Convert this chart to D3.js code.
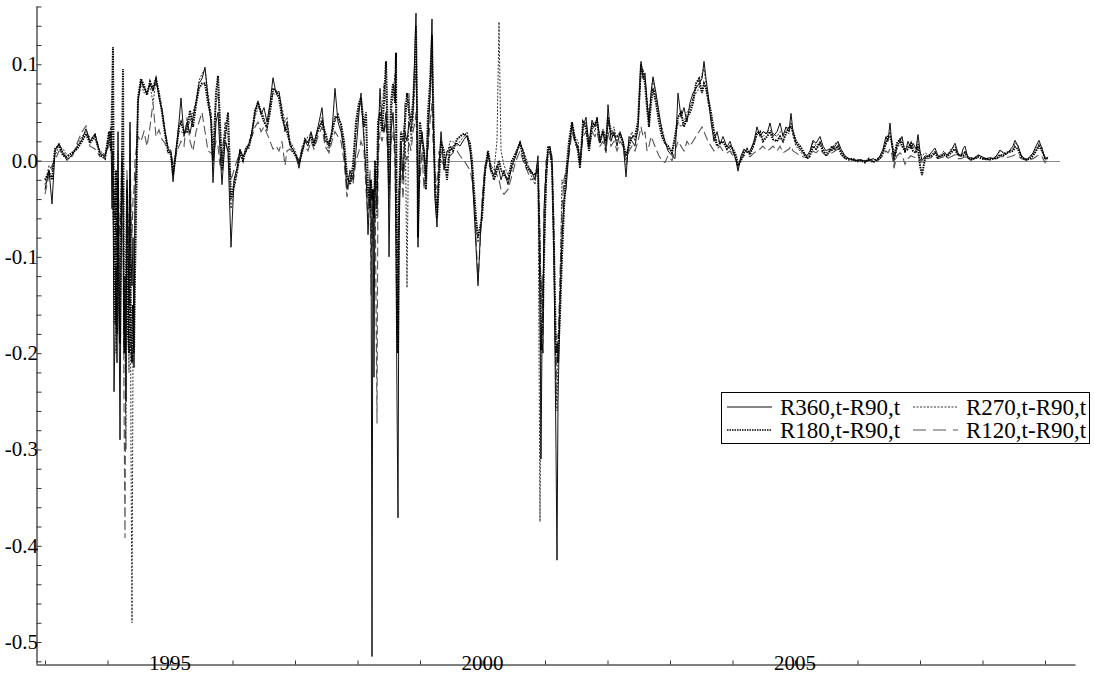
<!DOCTYPE html>
<html>
<head>
<meta charset="utf-8">
<script src="https://cdn.jsdelivr.net/npm/d3@7"></script>
<style>
html,body{margin:0;padding:0;background:#fff;}
svg{display:block;}
text{font-family:"Liberation Serif","Times New Roman",serif;fill:#000;}
</style>
</head>
<body>
<svg id="chart" width="1094" height="677"></svg>
<script>
// ---- data (decimal years) ----
const dates = [
1993.000,1993.064,1993.112,1993.160,1993.224,1993.288,1993.352,1993.432,1993.512,1993.592,1993.656,1993.720,1993.800,1993.880,1993.960,1994.024,
1994.056,1994.072,1994.088,1994.104,1994.120,1994.136,1994.152,1994.168,1994.184,1994.200,1994.216,1994.232,1994.248,1994.264,1994.280,1994.296,1994.312,1994.328,1994.344,1994.360,1994.376,1994.392,1994.408,1994.424,1994.440,1994.456,
1994.488,1994.536,1994.584,1994.632,1994.680,1994.728,1994.776,1994.824,1994.872,1994.920,1994.968,1995.016,1995.048,1995.096,1995.144,1995.176,1995.224,1995.272,1995.320,1995.368,1995.416,1995.464,1995.512,1995.560,1995.608,1995.656,1995.688,1995.736,1995.768,1995.800,1995.832,1995.880,1995.928,1995.976,1996.024,1996.072,1996.120,1996.168,1996.216,1996.264,1996.312,1996.360,1996.408,1996.456,1996.504,1996.552,1996.600,1996.648,1996.696,1996.744,1996.792,1996.840,1996.872,1996.920,1996.968,1997.016,1997.064,
1997.112,1997.160,1997.208,1997.256,1997.304,1997.368,1997.432,1997.480,1997.544,1997.592,
1997.640,1997.688,1997.736,1997.784,1997.832,1997.880,1997.928,1997.976,1998.024,1998.056,
1998.104,1998.136,1998.168,1998.200,1998.216,1998.232,1998.248,1998.264,1998.280,1998.312,
1998.328,1998.360,1998.392,1998.424,1998.456,1998.488,1998.504,1998.536,1998.568,1998.600,
1998.616,1998.632,1998.648,1998.664,1998.696,1998.728,1998.760,1998.792,1998.824,1998.856,
1998.888,1998.920,1998.936,1998.952,1998.968,1999.000,1999.032,1999.064,1999.096,1999.128,
1999.160,1999.192,1999.208,1999.240,1999.272,1999.304,1999.336,1999.384,1999.432,1999.480,
1999.528,1999.592,1999.640,1999.704,1999.752,1999.800,1999.832,1999.864,1999.896,1999.928,
1999.960,1999.992,2000.040,2000.088,2000.136,2000.184,2000.232,2000.264,2000.296,2000.344,
2000.408,2000.472,2000.536,2000.600,2000.648,2000.712,2000.776,2000.840,2000.888,2000.920,
2000.936,2000.952,2000.968,2000.984,2001.016,2001.048,2001.080,2001.112,2001.144,2001.176,
2001.192,2001.208,2001.240,2001.272,2001.304,2001.336,2001.384,2001.432,2001.480,2001.528,
2001.560,2001.608,2001.656,2001.704,2001.752,2001.800,2001.832,2001.880,2001.928,2001.976,
2002.008,2002.056,2002.104,2002.152,2002.200,2002.248,2002.296,2002.344,2002.392,2002.440,
2002.488,2002.520,2002.536,2002.568,2002.600,2002.632,2002.664,2002.696,2002.728,2002.776,
2002.824,2002.872,2002.920,2002.968,2003.032,2003.080,2003.128,2003.176,2003.224,2003.272,
2003.320,2003.368,2003.416,2003.464,2003.512,2003.544,2003.576,2003.608,2003.656,2003.704,
2003.752,2003.800,2003.848,2003.912,2003.960,2004.008,2004.056,2004.088,2004.136,2004.184,
2004.232,2004.280,2004.344,2004.392,2004.440,2004.488,2004.552,2004.600,2004.648,2004.712,
2004.760,2004.808,2004.856,2004.904,2004.936,2004.968,2005.016,2005.080,2005.128,2005.192,
2005.240,2005.288,2005.336,2005.400,2005.448,2005.496,2005.544,2005.592,2005.640,2005.688,
2005.736,2005.800,2005.864,2005.928,2005.992,2006.056,2006.120,2006.184,2006.248,2006.312,
2006.360,2006.408,2006.456,2006.488,2006.520,2006.552,2006.584,2006.632,2006.680,2006.712,
2006.760,2006.808,2006.856,2006.888,2006.936,2006.968,2007.000,2007.032,2007.080,2007.128,
2007.176,2007.240,2007.288,2007.336,2007.384,2007.432,2007.496,2007.560,2007.608,2007.656,
2007.688,2007.720,2007.768,2007.816,2007.864,2007.928,2007.992,2008.056,2008.120,2008.184,
2008.232,2008.280,2008.328,2008.376,2008.440,2008.488,2008.520,2008.568,2008.616,2008.664,
2008.712,2008.760,2008.808,2008.856,2008.904,2008.952,2009.000,2009.048
];

const r360 = [
-0.030,-0.010,-0.045,0.010,0.018,0.008,0.000,0.006,0.014,0.022,0.033,0.020,0.028,0.008,0.004,0.020,
0.030,-0.050,0.010,-0.240,-0.180,-0.110,-0.210,0.030,-0.150,-0.290,-0.120,0.000,-0.050,-0.200,-0.120,-0.250,-0.020,-0.080,-0.150,0.040,-0.100,-0.130,-0.080,-0.215,-0.030,-0.010,
0.062,0.083,0.075,0.070,0.080,0.072,0.086,0.065,0.052,0.030,0.012,0.008,-0.022,0.010,0.040,0.065,0.025,0.040,0.028,0.045,0.060,0.080,0.085,0.097,0.065,0.040,-0.023,0.040,0.050,0.010,-0.025,0.020,0.010,-0.090,-0.020,-0.008,0.012,0.004,0.010,0.018,0.030,0.050,0.062,0.048,0.055,0.040,0.060,0.086,0.070,0.072,0.050,0.030,0.040,0.015,0.012,0.005,-0.008,
0.010,0.020,0.015,0.030,0.018,0.035,0.055,0.020,0.018,0.030,
0.075,0.040,0.030,0.010,-0.030,-0.010,-0.020,0.010,0.050,0.070,
0.020,-0.010,-0.077,-0.030,-0.020,-0.515,-0.030,-0.225,-0.010,-0.050,
0.020,0.075,0.040,0.030,0.050,0.010,-0.100,0.030,0.050,0.010,
-0.100,-0.250,-0.371,-0.080,0.020,-0.020,0.030,0.020,0.040,0.030,
0.050,0.120,0.153,0.040,-0.090,0.010,0.030,0.010,-0.020,0.020,
0.070,0.147,0.060,-0.040,-0.069,-0.010,0.030,-0.010,0.010,0.010,
0.015,0.018,0.015,0.022,0.026,0.010,-0.010,-0.050,-0.090,-0.130,
-0.085,-0.050,-0.010,0.008,-0.010,-0.015,-0.005,-0.010,-0.020,-0.010,
-0.025,-0.005,0.005,0.020,0.010,-0.005,-0.010,-0.020,0.005,-0.150,
-0.310,-0.190,-0.200,-0.050,-0.010,0.010,0.015,0.000,-0.100,-0.300,
-0.415,-0.250,-0.150,-0.080,-0.040,-0.030,0.010,0.039,0.020,0.015,
-0.005,0.035,0.045,0.015,0.042,0.035,0.045,0.020,0.030,0.010,
0.058,0.020,0.030,0.015,0.030,0.020,-0.017,0.025,0.020,0.015,
0.035,0.085,0.103,0.085,0.091,0.060,0.040,0.070,0.087,0.070,
0.050,0.030,0.020,0.010,0.005,0.002,0.070,0.045,0.055,0.040,
0.060,0.070,0.075,0.080,0.085,0.103,0.085,0.070,0.040,0.020,
0.030,0.017,0.025,0.014,0.020,0.010,0.000,-0.011,0.005,0.012,
0.008,0.010,0.020,0.035,0.025,0.030,0.028,0.039,0.025,0.030,
0.039,0.025,0.035,0.030,0.049,0.030,0.018,0.012,0.008,0.005,
0.010,0.021,0.018,0.025,0.015,0.010,0.012,0.010,0.015,0.020,
0.012,0.005,0.002,0.001,0.000,0.001,-0.001,0.000,0.002,0.000,
0.005,0.012,0.025,0.020,0.039,0.015,0.000,0.015,0.020,0.025,
0.008,0.020,0.012,0.018,0.012,0.027,0.010,0.000,0.005,0.004,
0.008,0.013,0.005,0.004,0.008,0.006,0.010,0.018,0.008,0.004,
0.012,0.015,0.002,0.003,0.002,0.006,0.004,0.002,0.003,0.002,
0.006,0.011,0.008,0.006,0.011,0.015,0.021,0.015,0.006,0.002,
0.001,0.004,0.008,0.015,0.021,0.012,0.002,0.003
];

const r270 = [
-0.025,-0.005,-0.010,0.005,0.015,0.012,0.006,0.004,0.016,0.025,0.030,0.024,0.022,0.010,0.006,0.025,
0.035,-0.030,-0.060,-0.080,-0.110,-0.200,-0.150,0.010,-0.120,-0.180,-0.100,-0.020,-0.030,-0.150,-0.200,-0.300,-0.050,-0.100,-0.220,0.010,-0.300,-0.480,-0.200,-0.100,-0.050,-0.020,
0.060,0.080,0.070,0.072,0.078,0.060,0.082,0.068,0.055,0.032,0.015,0.010,-0.010,0.012,0.030,0.030,0.028,0.035,0.040,0.050,0.062,0.083,0.090,0.095,0.070,0.050,-0.010,0.060,0.070,0.030,0.000,0.040,0.025,-0.050,-0.030,-0.015,0.005,0.002,0.015,0.012,0.032,0.045,0.055,0.052,0.045,0.030,0.055,0.070,0.068,0.070,0.055,0.040,0.045,0.020,0.015,0.008,-0.004,
0.015,0.018,0.025,0.028,0.020,0.030,0.045,0.025,0.010,0.035,
0.040,0.050,0.035,0.015,-0.020,-0.020,-0.015,0.030,0.055,0.060,
0.030,-0.020,-0.040,-0.020,-0.080,-0.060,-0.090,-0.070,-0.020,-0.060,
0.010,0.060,0.050,0.080,0.060,0.030,-0.050,0.040,0.070,0.090,
0.040,-0.100,-0.200,-0.050,0.010,-0.010,0.060,-0.132,0.070,0.020,
0.040,0.080,0.090,0.050,-0.070,0.020,0.020,0.000,-0.010,0.040,
0.060,0.100,0.050,-0.020,-0.050,0.000,0.010,0.000,0.005,0.020,
0.020,0.015,0.020,0.025,0.030,0.015,-0.005,-0.040,-0.070,-0.085,
-0.080,-0.055,-0.015,0.005,-0.005,-0.010,0.020,0.144,0.010,-0.005,
-0.015,-0.010,0.010,0.015,0.012,0.000,-0.015,-0.025,0.000,-0.375,
-0.200,-0.150,-0.120,-0.100,-0.030,0.005,0.010,-0.010,-0.120,-0.230,
-0.260,-0.200,-0.130,-0.020,-0.030,-0.020,0.015,0.035,0.025,0.020,
0.000,0.030,0.040,0.020,0.040,0.030,0.040,0.025,0.028,0.015,
0.040,0.025,0.035,0.020,0.025,0.022,0.000,0.020,0.030,0.020,
0.030,0.070,0.090,0.095,0.085,0.065,0.045,0.070,0.085,0.065,
0.045,0.035,0.020,0.012,0.010,0.020,0.040,0.035,0.040,0.050,
0.055,0.065,0.070,0.075,0.090,0.095,0.080,0.060,0.045,0.025,
0.020,0.020,0.018,0.015,0.012,0.008,0.002,-0.008,0.003,0.010,
0.010,0.008,0.015,0.030,0.028,0.025,0.030,0.032,0.028,0.025,
0.030,0.028,0.030,0.028,0.040,0.025,0.015,0.010,0.006,0.004,
0.008,0.020,0.015,0.020,0.012,0.008,0.010,0.012,0.018,0.018,
0.010,0.004,0.002,0.000,0.001,0.000,0.000,0.001,0.000,0.002,
0.004,0.010,0.020,0.022,0.030,0.020,-0.005,0.012,0.018,0.020,
0.012,0.015,0.015,0.015,0.010,0.020,0.008,0.005,0.008,0.006,
0.006,0.010,0.004,0.006,0.010,0.005,0.012,0.015,0.006,0.005,
0.008,0.010,0.004,0.002,0.003,0.005,0.004,0.001,0.002,0.003,
0.005,0.010,0.009,0.007,0.010,0.012,0.018,0.016,0.005,0.001,
0.000,0.005,0.006,0.012,0.018,0.014,0.000,0.004
];

const r180 = [
-0.020,-0.012,-0.020,0.012,0.016,0.005,0.004,0.008,0.012,0.020,0.028,0.018,0.026,0.006,0.002,0.030,
0.010,0.060,0.118,-0.100,-0.170,-0.010,-0.180,-0.020,-0.150,-0.190,-0.050,0.000,0.095,-0.160,-0.200,-0.120,-0.030,-0.180,-0.200,-0.020,-0.190,-0.210,-0.150,-0.200,-0.120,-0.060,
0.065,0.085,0.078,0.068,0.082,0.075,0.085,0.070,0.050,0.028,0.010,0.006,-0.015,0.008,0.035,0.040,0.030,0.030,0.052,0.035,0.058,0.075,0.080,0.080,0.060,0.045,0.000,0.070,0.088,0.040,-0.010,0.025,0.050,-0.040,-0.025,-0.010,0.008,0.000,0.012,0.015,0.028,0.052,0.060,0.050,0.040,0.035,0.050,0.075,0.072,0.065,0.045,0.035,0.030,0.018,0.010,0.004,-0.002,
0.008,0.022,0.018,0.025,0.015,0.032,0.040,0.030,0.015,0.028,
0.045,0.045,0.038,0.020,-0.015,-0.025,-0.005,0.040,0.060,0.065,
0.035,0.050,-0.030,-0.050,-0.020,-0.040,-0.030,-0.060,0.000,-0.030,
0.040,0.050,0.030,0.060,0.103,0.020,-0.030,0.060,0.080,0.060,
0.112,-0.150,-0.200,-0.040,0.030,0.020,0.040,0.070,0.050,0.040,
0.060,0.100,0.140,0.060,-0.080,0.040,0.020,0.010,-0.030,0.050,
0.080,0.130,0.070,-0.030,-0.060,-0.020,0.020,0.010,-0.020,0.015,
0.010,0.022,0.025,0.028,0.025,0.018,0.000,-0.030,-0.060,-0.080,
-0.070,-0.060,-0.010,0.010,-0.008,-0.020,-0.010,0.000,-0.010,-0.015,
-0.020,0.000,0.008,0.018,0.005,-0.008,-0.012,-0.015,-0.010,-0.100,
-0.197,-0.180,-0.160,-0.100,-0.020,0.015,0.012,-0.005,-0.090,-0.200,
-0.190,-0.210,-0.160,-0.100,-0.050,-0.015,0.020,0.040,0.022,0.010,
-0.008,0.040,0.035,0.010,0.035,0.038,0.042,0.018,0.032,0.020,
0.045,0.030,0.025,0.025,0.028,0.018,0.005,0.015,0.025,0.025,
0.040,0.080,0.100,0.090,0.080,0.055,0.035,0.060,0.075,0.060,
0.040,0.025,0.018,0.015,0.008,0.025,0.045,0.050,0.035,0.045,
0.050,0.060,0.080,0.085,0.070,0.080,0.075,0.065,0.050,0.030,
0.015,0.018,0.020,0.012,0.015,0.012,0.005,-0.005,0.000,0.008,
0.012,0.006,0.018,0.028,0.030,0.020,0.025,0.030,0.022,0.020,
0.025,0.020,0.028,0.035,0.035,0.030,0.020,0.015,0.010,0.002,
0.005,0.015,0.012,0.018,0.010,0.006,0.008,0.015,0.012,0.015,
0.008,0.003,0.001,0.002,-0.001,0.000,-0.002,0.002,-0.002,0.001,
0.003,0.008,0.018,0.025,0.025,0.018,0.005,0.018,0.022,0.015,
0.010,0.012,0.018,0.010,0.008,0.015,-0.005,-0.015,0.002,0.005,
0.004,0.008,0.003,0.005,0.006,0.004,0.008,0.012,0.005,0.006,
0.005,0.008,0.003,0.001,0.002,0.004,0.002,0.002,0.001,0.002,
0.003,0.006,0.005,0.008,0.009,0.010,0.014,0.012,0.004,0.002,
0.001,0.002,0.005,0.010,0.015,0.010,0.003,0.002
];

const r120 = [
-0.035,-0.015,-0.005,0.000,0.010,0.010,0.002,0.003,0.018,0.030,0.036,0.015,0.012,0.004,0.008,0.015,
0.020,-0.010,0.020,-0.060,-0.030,-0.100,-0.050,0.000,-0.060,-0.080,-0.050,0.010,-0.040,-0.250,-0.392,-0.150,-0.010,-0.060,-0.090,0.030,-0.060,-0.080,-0.040,-0.030,0.000,0.010,
0.025,0.020,0.030,0.015,0.035,0.060,0.025,0.032,0.022,0.018,0.008,0.010,-0.005,0.006,0.015,0.020,0.015,0.045,0.020,0.010,0.030,0.040,0.050,0.030,0.010,0.008,0.005,0.020,0.015,-0.005,0.010,0.030,0.005,-0.020,-0.010,0.000,0.010,0.005,0.008,0.020,0.025,0.035,0.040,0.030,0.035,0.028,0.020,0.012,0.015,0.010,0.020,-0.005,0.010,0.012,0.008,0.006,0.000,
0.012,0.015,0.010,0.020,0.012,0.025,0.035,0.015,0.008,0.020,
0.030,0.025,0.020,0.000,-0.038,-0.015,-0.025,0.000,0.010,0.020,
0.010,-0.030,-0.060,-0.010,-0.140,-0.030,-0.080,-0.040,-0.010,-0.273,
0.000,0.030,0.020,0.030,0.040,0.000,-0.040,0.020,0.030,0.000,
-0.080,-0.180,-0.150,-0.030,0.000,-0.040,0.010,0.000,0.020,0.010,
0.030,0.040,0.050,0.010,-0.040,-0.020,0.010,-0.030,0.000,0.010,
0.040,0.060,0.020,-0.010,-0.030,0.010,0.000,-0.005,0.000,0.005,
0.008,0.010,0.005,0.000,-0.005,-0.010,-0.020,-0.040,-0.080,-0.125,
-0.090,-0.040,-0.005,0.000,-0.012,-0.008,-0.015,-0.020,-0.030,-0.035,
-0.030,-0.015,0.000,0.010,0.000,-0.010,-0.020,-0.018,0.000,-0.080,
-0.150,-0.120,-0.190,-0.060,0.000,0.005,0.008,0.005,-0.070,-0.250,
-0.180,-0.200,-0.120,-0.050,-0.020,-0.010,0.005,0.030,0.018,0.012,
-0.005,0.025,0.030,0.012,0.030,0.025,0.030,0.015,0.020,0.008,
0.030,0.015,0.020,0.010,0.020,0.015,-0.005,0.010,0.015,0.010,
0.020,0.030,0.035,0.025,0.030,0.010,0.015,0.025,0.020,0.012,
0.005,0.000,-0.002,0.005,0.000,0.010,0.020,0.015,0.010,0.020,
0.015,0.020,0.025,0.030,0.035,0.030,0.025,0.020,0.015,0.010,
0.012,0.015,0.010,0.008,0.010,0.005,0.000,-0.006,0.002,0.005,
0.006,0.004,0.008,0.010,0.012,0.015,0.010,0.012,0.015,0.010,
0.015,0.008,0.010,0.012,0.015,0.010,0.008,0.005,0.004,0.003,
0.004,0.010,0.008,0.012,0.008,0.005,0.006,0.008,0.010,0.012,
0.006,0.002,0.001,0.000,0.000,0.001,0.000,0.000,0.001,-0.001,
0.002,0.005,0.010,0.008,0.012,0.006,-0.008,0.005,0.008,0.006,
-0.004,0.002,0.005,0.004,0.003,0.006,0.002,-0.002,0.003,0.002,
0.003,0.004,0.002,0.003,0.004,0.002,0.004,0.006,0.002,0.002,
0.003,0.004,0.001,0.001,0.002,0.003,0.002,0.001,0.001,0.002,
0.002,0.004,0.004,0.003,0.004,0.005,0.006,0.005,0.002,0.001,
0.000,0.001,0.002,0.004,0.006,0.004,-0.002,0.001
];

const seriesNames = ["R360,t-R90,t", "R270,t-R90,t", "R180,t-R90,t", "R120,t-R90,t"];
const yMajorTicks = [-0.5, -0.4, -0.3, -0.2, -0.1, 0.0, 0.1];
const xLabelYears = [1995, 2000, 2005];
const xTickYears = [1993,1994,1995,1996,1997,1998,1999,2000,2001,2002,2003,2004,2005,2006,2007,2008,2009];

// ---- chart ----
const svg = d3.select("#chart");
const x = d3.scaleLinear().domain([1992.856, 2009.48]).range([36, 1075]);
const y = d3.scaleLinear().domain([-0.5228, 0.1605]).range([664, 6]);

const yMinor = d3.range(-52, 17, 2).map(v => v / 100).filter(v => v >= -0.5228 && v <= 0.1605);

// zero reference line
svg.append("line")
  .attr("x1", 36).attr("x2", 1060)
  .attr("y1", Math.round(y(0)) + 0.5).attr("y2", Math.round(y(0)) + 0.5)
  .attr("stroke", "#8a8a8a").attr("stroke-width", 1);

const styles = [
  {data: r120, color: "#555", width: 1.1, dash: "9,4"},
  {data: r270, color: "#333", width: 1, dash: "2,1.5"},
  {data: r360, color: "#111", width: 1, dash: null},
  {data: r180, color: "#000", width: 2, dash: "1.5,1"}
];

const n = Math.min(dates.length, r360.length, r270.length, r180.length, r120.length);
const idx = d3.range(n);

styles.forEach(s => {
  const line = d3.line().x(i => x(dates[i])).y(i => y(s.data[i]));
  svg.append("path")
    .attr("d", line(idx))
    .attr("fill", "none")
    .attr("stroke", s.color)
    .attr("stroke-width", s.width)
    .attr("stroke-dasharray", s.dash)
    .attr("stroke-linejoin", "miter");
});

// y axis (minor inward ticks)
const yAxisG = svg.append("g").attr("transform", "translate(36.5,0)")
  .call(d3.axisLeft(y).tickValues(yMinor).tickSize(-5).tickSizeOuter(0).tickFormat(""));
yAxisG.select(".domain").attr("stroke", "#000");
yAxisG.selectAll(".tick line").attr("stroke", "#333");

// y labels
svg.append("g").selectAll("text")
  .data(yMajorTicks).join("text")
  .attr("x", 38)
  .attr("y", d => y(d) + 7)
  .attr("text-anchor", "end")
  .attr("font-size", 21)
  .text(d => d.toFixed(1));

// x axis
const xAxisG = svg.append("g").attr("transform", "translate(0,664.5)")
  .call(d3.axisBottom(x).tickValues(xTickYears).tickSize(-4).tickSizeOuter(0).tickFormat(""));
xAxisG.select(".domain").attr("stroke", "#000");
xAxisG.selectAll(".tick line").attr("stroke", "#333");

svg.append("g").selectAll("text")
  .data(xLabelYears).join("text")
  .attr("x", d => x(d))
  .attr("y", 670)
  .attr("text-anchor", "middle")
  .attr("font-size", 21)
  .text(d => d);

// legend
const lg = svg.append("g");
lg.append("rect").attr("x", 721.5).attr("y", 392.5).attr("width", 368).attr("height", 51)
  .attr("fill", "#fff").attr("stroke", "#000").attr("stroke-width", 1);
const legendItems = [
  {name: seriesNames[0], st: styles[2], col: 0, row: 0},
  {name: seriesNames[1], st: styles[1], col: 1, row: 0},
  {name: seriesNames[2], st: styles[3], col: 0, row: 1},
  {name: seriesNames[3], st: styles[0], col: 1, row: 1}
];
legendItems.forEach(it => {
  const x0 = it.col === 0 ? 727 : 913;
  const ly = it.row === 0 ? 407 : 430;
  lg.append("line").attr("x1", x0).attr("x2", x0 + 45).attr("y1", ly).attr("y2", ly)
    .attr("stroke", it.st.color).attr("stroke-width", it.st.width === 2 ? 1.6 : 1)
    .attr("stroke-dasharray", it.st.dash === "9,4" ? "13,7" : it.st.dash);
  lg.append("text").attr("x", x0 + 53).attr("y", ly + 8).attr("font-size", 23).text(it.name);
});
</script>
</body>
</html>
